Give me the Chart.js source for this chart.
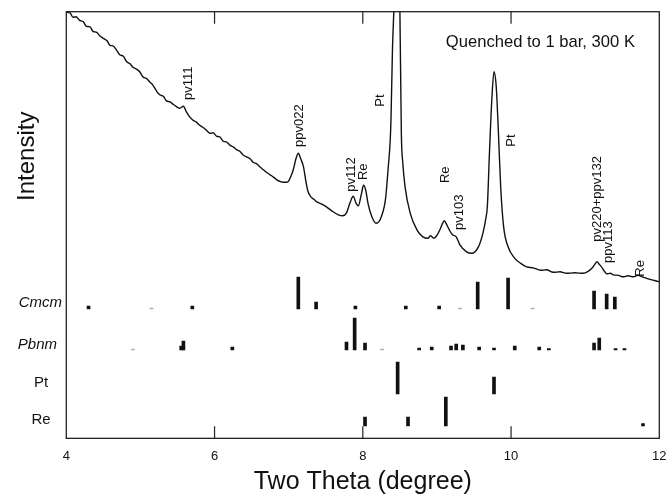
<!DOCTYPE html>
<html>
<head>
<meta charset="utf-8">
<script src="https://cdn.jsdelivr.net/npm/chart.js@4"></script>
<style>
  html, body { margin: 0; padding: 0; background: #fff; }
</style>
</head>
<body>
<canvas id="xrd" width="669" height="494"></canvas>
<script>
// measured pattern, two theta in degree, intensity in arb. units
const twoTheta = [
  4.00, 4.05, 4.09, 4.13, 4.18, 4.23, 4.27, 4.32, 4.36, 4.41, 4.45, 4.50, 4.55, 4.59, 4.63, 4.68,
  4.72, 4.77, 4.81, 4.86, 4.90, 4.95, 4.99, 5.04, 5.08, 5.13, 5.17, 5.22, 5.26, 5.31, 5.35, 5.40,
  5.44, 5.49, 5.53, 5.58, 5.62, 5.66, 5.71, 5.75, 5.80, 5.85, 5.89, 5.94, 5.98, 6.03, 6.07, 6.12,
  6.16, 6.21, 6.25, 6.30, 6.34, 6.39, 6.43, 6.48, 6.52, 6.57, 6.61, 6.66, 6.70, 6.75, 6.79, 6.84,
  6.90, 6.95, 6.99, 7.03, 7.06, 7.10, 7.13, 7.16, 7.20, 7.23, 7.26, 7.30, 7.34, 7.38, 7.44, 7.51,
  7.59, 7.67, 7.73, 7.78, 7.83, 7.87, 7.91, 7.94, 7.98, 8.01, 8.04, 8.07, 8.12, 8.18, 8.22, 8.25,
  8.29, 8.31, 8.34, 8.37, 8.38, 8.40, 8.42, 8.46, 8.50, 8.52, 8.54, 8.57, 8.64, 8.73, 8.81, 8.88,
  8.91, 8.96, 9.00, 9.04, 9.07, 9.10, 9.13, 9.17, 9.21, 9.26, 9.31, 9.40, 9.47, 9.56, 9.62, 9.66,
  9.68, 9.71, 9.74, 9.77, 9.80, 9.83, 9.86, 9.90, 9.96, 10.05, 10.13, 10.21, 10.30, 10.40, 10.48, 10.57,
  10.66, 10.75, 10.86, 10.97, 11.04, 11.09, 11.13, 11.16, 11.19, 11.22, 11.26, 11.29, 11.34, 11.38, 11.45, 11.51,
  11.58, 11.65, 11.71, 11.77, 11.83, 11.90, 11.98, 12.00
];
const intensity = [
  426, 425.5, 421, 421.5, 418, 416.5, 412, 411.5, 407, 406, 402.5, 400, 397.5, 393, 392.5, 388,
  383.5, 382, 377, 374.5, 371, 369, 366.5, 361, 360, 356, 353, 347, 343.5, 342, 337.5, 336.5,
  334, 331.5, 330, 332, 326.5, 322, 318, 316.5, 313, 310.5, 308, 305, 305.5, 302, 301.5, 297,
  296.5, 293, 291.5, 288.5, 287, 283, 281.5, 279.5, 276, 274.5, 271.5, 268.5, 266, 263.5, 261.5, 258.5,
  256.5, 256, 256.5, 262, 268, 280, 285, 280, 271.5, 258, 247, 241.5, 239, 236.5, 234.5, 231.5,
  227, 223.5, 222.5, 225.5, 236, 242, 235, 232.5, 244, 253, 248, 235, 222, 215, 217, 221.5,
  232, 241.5, 268, 298, 318, 388, 430, 520, 430, 305, 275, 251.5, 225, 208.5, 201.5, 200,
  202.5, 200, 203, 208.5, 214, 217.5, 214, 208, 203.5, 201.5, 193.5, 186.5, 185, 191.5, 205, 220,
  231.5, 288, 338, 366.5, 351.5, 305, 251.5, 211.5, 191.5, 180, 175, 171.5, 170.5, 168, 168.5, 166,
  166.5, 165, 165.5, 165, 167, 170, 174, 176.5, 174, 171.5, 167, 164.5, 165, 163.5, 163, 161.5,
  162.5, 161.5, 163, 161.5, 160, 158.5, 157, 156.5
];

// reference peak positions (degree) and stick heights for each phase
const cmcmPos = [4.30, 5.15, 5.70, 7.13, 7.37, 7.90, 8.58, 9.03, 9.31, 9.55, 9.96, 10.29, 11.12, 11.29, 11.40];
const cmcmHt  = [3, 1, 3, 32, 7, 3, 3, 3, 1, 27, 31, 1, 18, 15, 12];
const pbnmPos = [4.90, 5.55, 5.58, 6.24, 7.78, 7.89, 8.03, 8.26, 8.76, 8.93, 9.19, 9.26, 9.35, 9.57, 9.77, 10.05, 10.38, 10.51, 11.12, 11.19, 11.41, 11.53];
const pbnmHt  = [1, 4, 9, 3, 8, 32, 7, 1, 2, 3, 4, 6, 5, 3, 2, 4, 3, 1.5, 7, 12, 1.5, 1.5];
const ptPos = [8.47, 9.77];
const ptHt  = [32, 17];
const rePos = [8.03, 8.61, 9.12, 11.78];
const reHt  = [9, 9, 29, 2.5];

const phaseNames = ["Cmcm", "Pbnm", "Pt", "Re"];
const phaseBase  = [129.3, 88.3, 44.3, 12.3];
const phaseNameY = [135.6, 93.3, 55.6, 18.3];

// peak labels on the pattern
const peakLabels = ["pv111", "ppv022", "pv112", "Re", "Pt", "Re", "pv103", "Pt", "pv220+ppv132", "ppv113", "Re"];
const peakLabelX = [5.65, 7.14, 7.84, 8.01, 8.24, 9.12, 9.30, 10.00, 11.16, 11.32, 11.75];
const peakLabelY = [338.3, 291.3, 246.6, 258.3, 331.6, 255.3, 208.3, 291.6, 196.6, 175.3, 161.6];

const xTicks = [4, 6, 8, 10, 12];
const note = "Quenched to 1 bar, 300 K";

const FONT = '"Liberation Sans", Arial, Helvetica, sans-serif';

function sticks(pos, ht, base) {
  return pos.map((p, i) => ({ x: p, y: [base, base + ht[i]] }));
}
function stickColors(ht) {
  return ht.map(h => h <= 1 ? '#aaa' : '#111');
}

const decor = {
  id: 'decor',
  afterDatasetsDraw(chart) {
    const ctx = chart.ctx;
    const a = chart.chartArea;
    const x = chart.scales.x;
    const y = chart.scales.y;
    ctx.save();

    // frame
    ctx.strokeStyle = '#222';
    ctx.lineWidth = 1.3;
    ctx.strokeRect(a.left, a.top, a.right - a.left, a.bottom - a.top);

    // inward ticks on top and bottom
    ctx.lineWidth = 1.2;
    xTicks.slice(1, -1).forEach(v => {
      const px = x.getPixelForValue(v);
      ctx.beginPath();
      ctx.moveTo(px, a.bottom); ctx.lineTo(px, a.bottom - 12);
      ctx.moveTo(px, a.top); ctx.lineTo(px, a.top + 12);
      ctx.stroke();
    });

    ctx.fillStyle = '#111';

    // rotated peak labels
    ctx.font = '13px ' + FONT;
    ctx.textAlign = 'left';
    ctx.textBaseline = 'middle';
    peakLabels.forEach((t, i) => {
      ctx.save();
      ctx.translate(x.getPixelForValue(peakLabelX[i]), y.getPixelForValue(peakLabelY[i]));
      ctx.rotate(-Math.PI / 2);
      ctx.fillText(t, 0, 0);
      ctx.restore();
    });

    // condition note
    ctx.font = '16.6px ' + FONT;
    ctx.fillText(note, x.getPixelForValue(9.12), y.getPixelForValue(395.6));

    // phase names left of the axis
    phaseNames.forEach((n, i) => {
      const py = y.getPixelForValue(phaseNameY[i]);
      if (i < 2) {
        ctx.font = 'italic 15px ' + FONT;
        ctx.textAlign = 'right';
        ctx.fillText(n, i == 0 ? 62 : 57, py);
      } else {
        ctx.font = '15px ' + FONT;
        ctx.textAlign = 'center';
        ctx.fillText(n, 41, py);
      }
    });

    // y title
    ctx.font = '24px ' + FONT;
    ctx.textAlign = 'center';
    ctx.save();
    ctx.translate(27, y.getPixelForValue(282));
    ctx.rotate(-Math.PI / 2);
    ctx.fillText('Intensity', 0, 0);
    ctx.restore();

    ctx.restore();
  }
};

const barStyle = { type: 'bar', barThickness: 3, grouped: false, borderWidth: 0 };

new Chart(document.getElementById('xrd'), {
  type: 'bar',
  data: {
    datasets: [
      {
        type: 'line',
        label: 'pattern',
        data: twoTheta.map((t, i) => ({ x: t, y: intensity[i] })),
        borderColor: '#111',
        borderWidth: 1.4,
        pointRadius: 0,
        cubicInterpolationMode: 'monotone',
        order: 0
      },
      Object.assign({ label: 'Cmcm', data: sticks(cmcmPos, cmcmHt, phaseBase[0]), backgroundColor: stickColors(cmcmHt) }, barStyle),
      Object.assign({ label: 'Pbnm', data: sticks(pbnmPos, pbnmHt, phaseBase[1]), backgroundColor: stickColors(pbnmHt) }, barStyle),
      Object.assign({ label: 'Pt', data: sticks(ptPos, ptHt, phaseBase[2]), backgroundColor: stickColors(ptHt) }, barStyle),
      Object.assign({ label: 'Re', data: sticks(rePos, reHt, phaseBase[3]), backgroundColor: stickColors(reHt) }, barStyle)
    ]
  },
  options: {
    responsive: false,
    animation: false,
    devicePixelRatio: 1,
    layout: { padding: { left: 66.3, top: 11.7, right: 9.7, bottom: 0 } },
    plugins: { legend: { display: false }, tooltip: { enabled: false } },
    scales: {
      x: {
        type: 'linear',
        min: 4,
        max: 12,
        offset: false,
        afterBuildTicks: s => { s.ticks = xTicks.map(v => ({ value: v })); },
        grid: { display: false, drawTicks: false },
        border: { display: false },
        ticks: { padding: 2, color: '#111', font: { family: FONT, size: 13, lineHeight: 2.52 } },
        title: {
          display: true,
          text: 'Two Theta (degree)',
          color: '#111',
          font: { family: FONT, size: 25, lineHeight: 0.6 },
          padding: { top: 0, bottom: 3.9 }
        }
      },
      y: { display: false, min: 0, max: 426.6 }
    }
  },
  plugins: [decor]
});
</script>
</body>
</html>
